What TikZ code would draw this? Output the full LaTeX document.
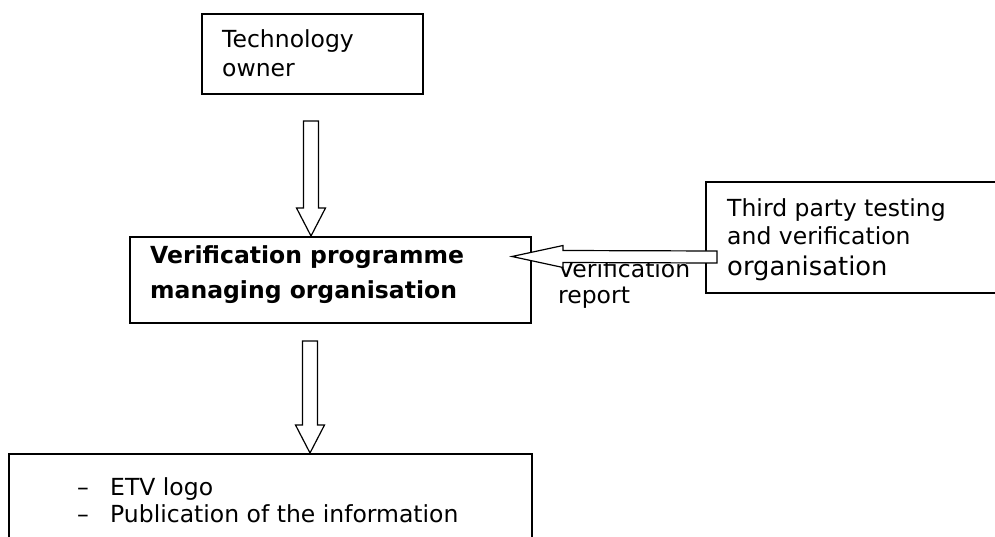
\documentclass[tikz,border=0pt]{standalone}
\usepackage{fontspec}
\setmainfont{DejaVu Sans}
\usetikzlibrary{calc}

\tikzset{
  box/.style={draw, line width=1.6pt, anchor=north west, inner sep=0pt},
  txt/.style={anchor=base west, inner sep=0pt, font=\fontsize{23.5}{29}\selectfont},
  hollow/.style={draw, fill=white, line width=1.2pt, line join=miter}
}
% hollow block arrows: #1 start of shaft, #2 tip
\newcommand{\arrowdown}[2]{\draw[hollow] ($(#1)+(-7.5,0)$) -- ($(#2)+(-7.5,-28)$) -- ($(#2)+(-14.5,-28)$) -- (#2) -- ($(#2)+(14.5,-28)$) -- ($(#2)+(7.5,-28)$) -- ($(#1)+(7.5,0)$) -- cycle;}
\newcommand{\arrowleft}[2]{\draw[hollow] ($(#1)+(0,-6)$) -- ($(#2)+(51,-6)$) -- ($(#2)+(51,-11)$) -- (#2) -- ($(#2)+(51,11)$) -- ($(#2)+(51,6)$) -- ($(#1)+(0,6)$) -- cycle;}

\begin{document}
\begin{tikzpicture}[x=1pt,y=-1pt]
\clip (0,0) rectangle (995,537);
\node[box, minimum width=221, minimum height=80] (owner) at (201,13) {};
\node[box, minimum width=401, minimum height=86] (vpmo) at (129,236) {};
\node[box, minimum width=310, minimum height=111] (third) at (705,181) {};
\node[box, minimum width=523, minimum height=120] (etv) at (8,453) {};
\node[txt] (owner1) at (222,48) {Technology};
\node[txt] (owner2) at (222,77) {owner};
\node[txt, font=\fontsize{23.5}{29}\selectfont\bfseries] (vpmo1) at (150,263) {Verification programme};
\node[txt, font=\fontsize{23.5}{29}\selectfont\bfseries] (vpmo2) at (150,298) {managing organisation};
\node[txt] (third1) at (727,217) {Third party testing};
\node[txt] (third2) at (727,245) {and verification};
\node[txt, font=\fontsize{25.8}{31}\selectfont] (third3) at (727,275) {organisation};
\node[txt] (rep1) at (558,277) {Verification};
\node[txt] (rep2) at (558,303) {report};
\node[txt] (dash1) at (77,495) {\textendash};
\node[txt] (etv1) at (110,495) {ETV logo};
\node[txt] (dash2) at (77,522) {\textendash};
\node[txt] (etv2) at (110,522) {Publication of the information};
\coordinate (a1) at (311,121);
\coordinate (a1tip) at (311,236);
\coordinate (a2) at (310,341);
\coordinate (a2tip) at (310,453);
\coordinate (a3) at (717,257);
\coordinate (a3tip) at (512,256.5);
\arrowdown{a1}{a1tip}
\arrowdown{a2}{a2tip}
\arrowleft{a3}{a3tip}
\end{tikzpicture}
\end{document}
